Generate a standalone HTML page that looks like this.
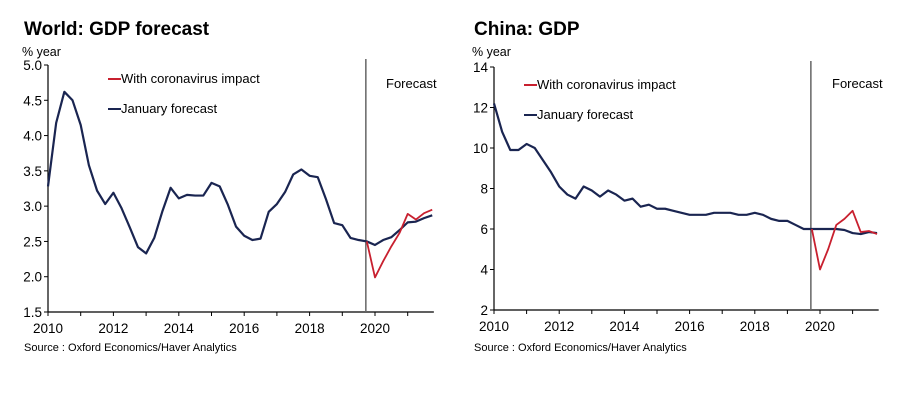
<!DOCTYPE html>
<html><head><meta charset="utf-8"><style>
body{margin:0;background:#fff;font-family:"Liberation Sans",Arial,sans-serif;}
svg text{font-family:"Liberation Sans",Arial,sans-serif;}
</style></head><body>
<svg id="s" width="908" height="410" viewBox="0 0 908 410"></svg>
<script>
const worldJan=[3.28,4.18,4.62,4.50,4.15,3.58,3.22,3.03,3.19,2.97,2.70,2.42,2.33,2.55,2.93,3.26,3.11,3.16,3.15,3.15,3.33,3.28,3.02,2.71,2.58,2.52,2.54,2.92,3.03,3.20,3.45,3.52,3.43,3.41,3.10,2.76,2.73,2.55,2.52,2.50,2.45,2.52,2.56,2.66,2.77,2.78,2.83,2.87];
const worldCovid=[2.50,1.99,2.22,2.43,2.62,2.89,2.81,2.90,2.95];
const chinaJan=[12.2,10.8,9.9,9.9,10.2,10.0,9.4,8.8,8.1,7.7,7.5,8.1,7.9,7.6,7.9,7.7,7.4,7.5,7.1,7.2,7.0,7.0,6.9,6.8,6.7,6.7,6.7,6.8,6.8,6.8,6.7,6.7,6.8,6.7,6.5,6.4,6.4,6.2,6.0,6.0,6.0,6.0,6.0,5.95,5.8,5.75,5.85,5.8];
const chinaCovid=[6.0,4.0,5.0,6.2,6.5,6.9,5.85,5.9,5.75];
const worldTicks=[1.5,2.0,2.5,3.0,3.5,4.0,4.5,5.0];
const chinaTicks=[2,4,6,8,10,12,14];
const yearLabels=[2010,2012,2014,2016,2018,2020];
const NS="http://www.w3.org/2000/svg";
const svg=document.getElementById('s');
function mk(tag,attrs,parent){const e=document.createElementNS(NS,tag);for(const k in attrs)e.setAttribute(k,attrs[k]);(parent||svg).appendChild(e);return e;}
function chart(cfg){
  const g=mk('g',{});
  
  
  const x=t=>cfg.x0+(t-2010)*cfg.pxYear;
  const y=v=>cfg.yBot-(v-cfg.yMin)/(cfg.yMax-cfg.yMin)*(cfg.yBot-cfg.yTop);
  let t=mk('text',{x:cfg.tx,y:35,'font-size':19,'font-weight':'bold',fill:'#000'},g);t.textContent=cfg.title;
  
  t=mk('text',{x:cfg.tx-2,y:56,'font-size':12.5,fill:'#000'},g);t.textContent='% year';
  
  mk('line',{x1:cfg.x0,y1:cfg.yTop,x2:cfg.x0,y2:cfg.yBot,stroke:'#000','stroke-width':1.2},g);
  mk('line',{x1:cfg.x0,y1:cfg.yBot,x2:x(2021.8),y2:cfg.yBot,stroke:'#000','stroke-width':1.2},g);
  cfg.ticks.forEach(v=>{
    mk('line',{x1:cfg.x0-4,y1:y(v),x2:cfg.x0,y2:y(v),stroke:'#000'},g);
    const l=mk('text',{x:cfg.x0-6,y:y(v)+5,'font-size':13.5,'text-anchor':'end',fill:'#000'},g);
    l.textContent=cfg.fmt(v);
    
    
  });
  for(let yr=2010;yr<=2021;yr++){mk('line',{x1:x(yr),y1:cfg.yBot,x2:x(yr),y2:cfg.yBot+4,stroke:'#000'},g);}
  yearLabels.forEach(yr=>{
    const l=mk('text',{x:x(yr),y:cfg.yBot+21,'font-size':13.5,'text-anchor':'middle',fill:'#000'},g);
    l.textContent=yr;
    
    
  });
  const fl=mk('line',{x1:x(2019.72),y1:cfg.yTop-6,x2:x(2019.72),y2:cfg.yBot,stroke:'#666','stroke-width':1.5},g);
  
  t=mk('text',{x:cfg.fx,y:88,'font-size':13,fill:'#000'},g);t.textContent='Forecast';
  
  const p1=mk('polyline',{points:cfg.jan.map((v,i)=>x(2010+i*0.25)+','+y(v)).join(' '),fill:'none',stroke:'#1a2551','stroke-width':2.2,'stroke-linejoin':'round'},g);
  
  const p2=mk('polyline',{points:cfg.cov.map((v,i)=>x(2019.75+i*0.25)+','+y(v)).join(' '),fill:'none',stroke:'#c8202f','stroke-width':1.8,'stroke-linejoin':'round'},g);
  
  const lg=mk('g',{},g);
  
  mk('line',{x1:cfg.lx,y1:cfg.ly-4,x2:cfg.lx+13,y2:cfg.ly-4,stroke:'#c8202f','stroke-width':2},lg);
  t=mk('text',{x:cfg.lx+13,y:cfg.ly,'font-size':13,fill:'#000'},lg);t.textContent='With coronavirus impact';
  
  mk('line',{x1:cfg.lx,y1:cfg.ly+26,x2:cfg.lx+13,y2:cfg.ly+26,stroke:'#1a2551','stroke-width':2},lg);
  t=mk('text',{x:cfg.lx+13,y:cfg.ly+30,'font-size':13,fill:'#000'},lg);t.textContent='January forecast';
  
  t=mk('text',{x:cfg.tx,y:351,'font-size':11,fill:'#000'},g);t.textContent='Source : Oxford Economics/Haver Analytics';
  
}
chart({name:'world-gdp-chart',title:'World: GDP forecast',tx:24,x0:48,pxYear:32.7,yTop:65,yBot:312,yMin:1.5,yMax:5.0,ticks:worldTicks,fmt:v=>v.toFixed(1),jan:worldJan,cov:worldCovid,fx:386,lx:108,ly:83});
chart({name:'china-gdp-chart',title:'China: GDP',tx:474,x0:494,pxYear:32.6,yTop:67,yBot:310,yMin:2,yMax:14,ticks:chinaTicks,fmt:v=>String(v),jan:chinaJan,cov:chinaCovid,fx:832,lx:524,ly:89});
</script>
</body></html>
